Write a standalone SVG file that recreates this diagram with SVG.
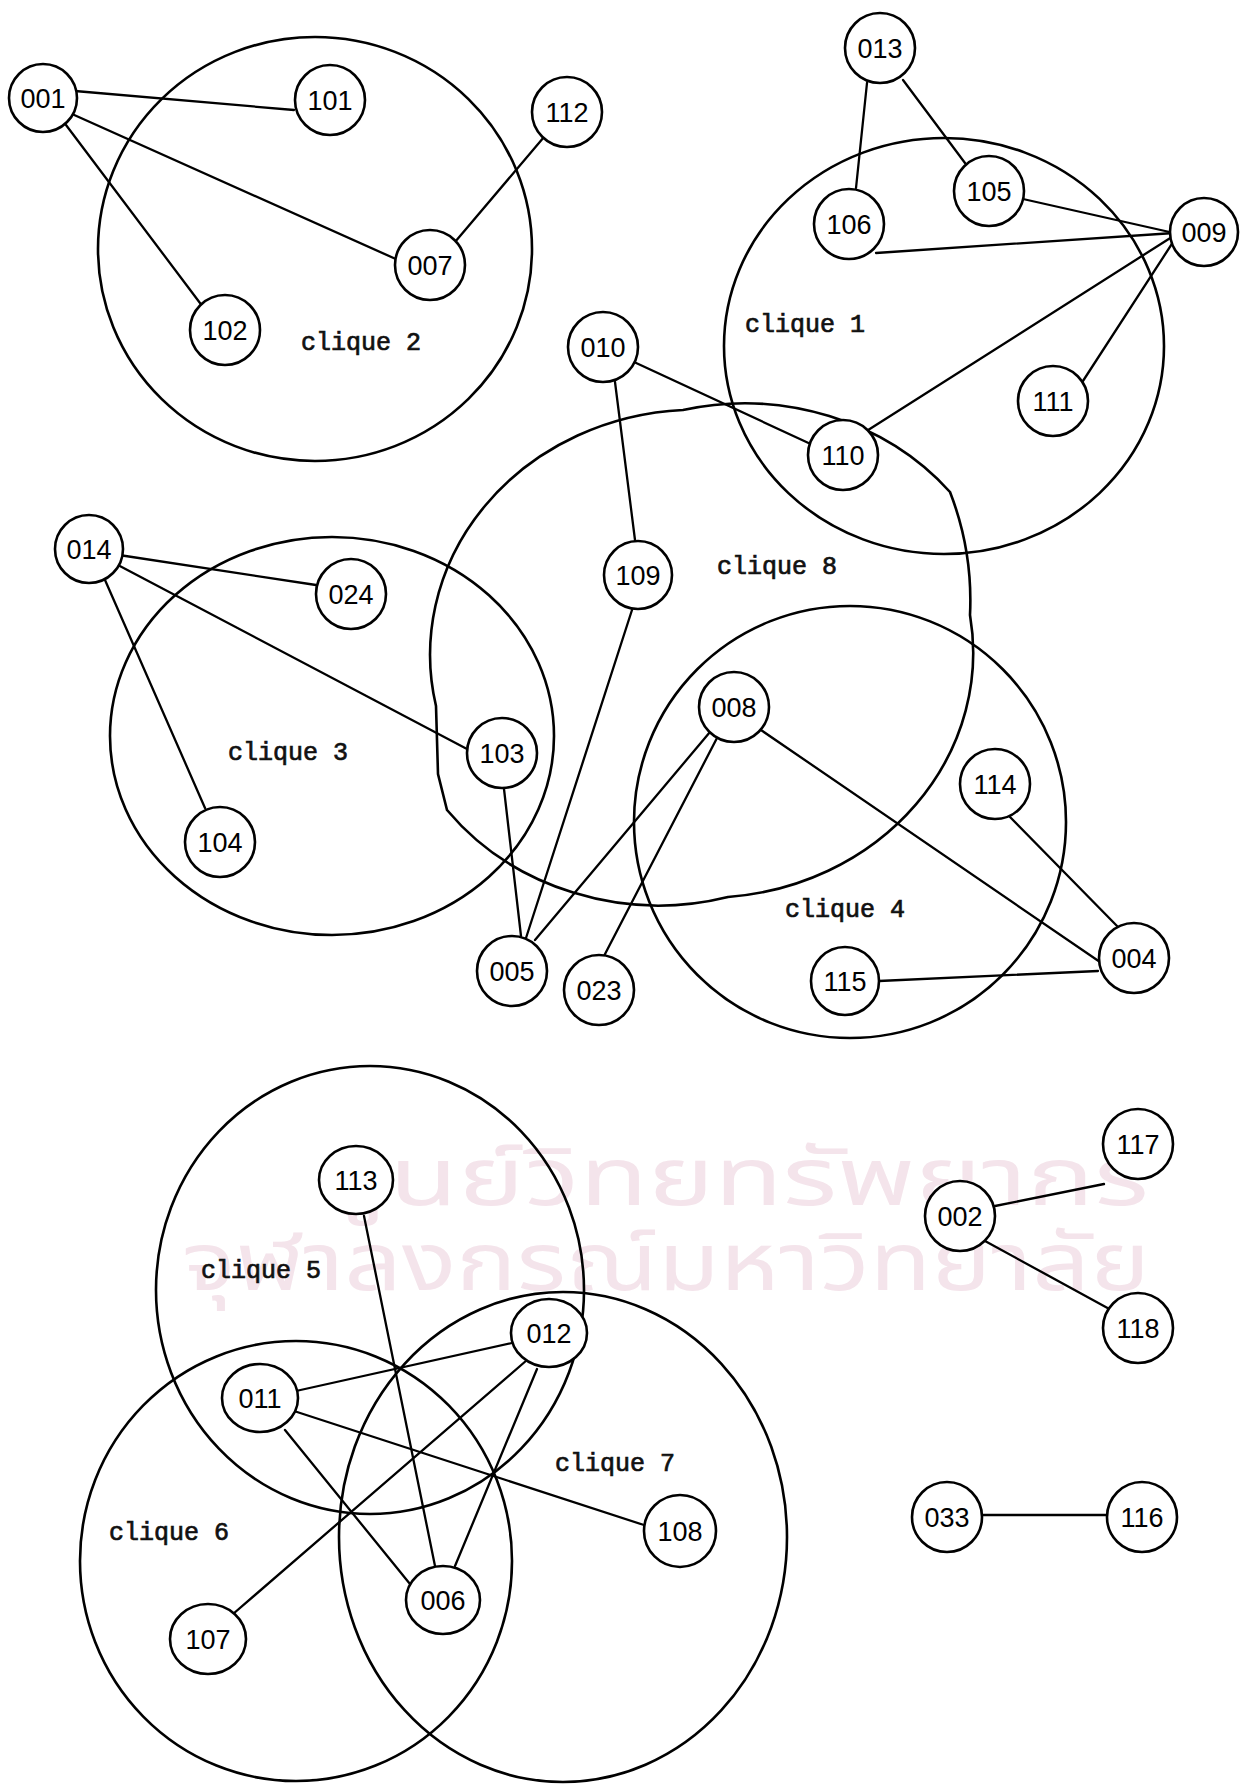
<svg xmlns="http://www.w3.org/2000/svg" width="1244" height="1785" viewBox="0 0 1244 1785">
<style>
.cl{fill:none;stroke:#000;stroke-width:2.6}
.e{stroke:#000;stroke-width:2.3;fill:none;stroke-linecap:round}
.n circle,.n ellipse{fill:#fff;stroke:#000;stroke-width:2.6}
.n text{font-family:"Liberation Sans",Arial,sans-serif;font-size:27px;text-anchor:middle;fill:#000}
.lab{font-family:"Liberation Mono","Courier New",monospace;font-size:25px;text-anchor:middle;fill:#111;stroke:#111;stroke-width:0.7}
.wm{font-family:"Noto Sans Thai","Noto Sans","DejaVu Sans",sans-serif;font-size:80px;fill:#f4e4eb}
</style>
<rect width="1244" height="1785" fill="#fff"/>
<g id="watermark">
<text class="wm" x="319" y="1205" textLength="830" lengthAdjust="spacingAndGlyphs">ศูนย์วิทยทรัพยากร</text>
<text class="wm" x="182" y="1290" textLength="968" lengthAdjust="spacingAndGlyphs">จุฬาลงกรณ์มหาวิทยาลัย</text>
</g>
<g id="cliques">
<ellipse id="clique2" class="cl" cx="315" cy="249" rx="217" ry="212"/>
<ellipse id="clique1" class="cl" cx="944" cy="346" rx="220" ry="208"/>
<ellipse id="clique3" class="cl" cx="332" cy="736" rx="222" ry="199"/>
<ellipse id="clique4" class="cl" cx="850" cy="822" rx="216" ry="216"/>
<path id="clique8" class="cl" d="M436 706 A267 245 0 0 1 683 410 A267 245 0 0 1 950 492 A300 300 0 0 1 970 615 A267 245 0 0 1 728 897 A267 245 0 0 1 447 810 L438 774 Z"/>
<ellipse id="clique5" class="cl" cx="370" cy="1290" rx="214" ry="224"/>
<ellipse id="clique6" class="cl" cx="296" cy="1561" rx="216" ry="220"/>
<ellipse id="clique7" class="cl" cx="563" cy="1537" rx="224" ry="245"/>
</g>
<g id="labels">
<text class="lab" x="361" y="350">clique 2</text>
<text class="lab" x="805" y="332">clique 1</text>
<text class="lab" x="288" y="760">clique 3</text>
<text class="lab" x="777" y="574">clique 8</text>
<text class="lab" x="845" y="917">clique 4</text>
<text class="lab" x="261" y="1278">clique 5</text>
<text class="lab" x="615" y="1471">clique 7</text>
<text class="lab" x="169" y="1540">clique 6</text>
</g>
<g id="connectors">
<line class="e" x1="75" y1="91" x2="294" y2="110"/>
<line class="e" x1="72" y1="114" x2="398" y2="260"/>
<line class="e" x1="66" y1="125" x2="203" y2="307"/>
<line class="e" x1="544" y1="137" x2="455" y2="242"/>
<line class="e" x1="867" y1="83" x2="856" y2="188"/>
<line class="e" x1="903" y1="80" x2="965" y2="163"/>
<line class="e" x1="1023" y1="199" x2="1174" y2="233"/>
<line class="e" x1="876" y1="253" x2="1174" y2="233"/>
<line class="e" x1="865" y1="432" x2="1175" y2="235"/>
<line class="e" x1="1081" y1="384" x2="1177" y2="236"/>
<line class="e" x1="634" y1="362" x2="815" y2="446"/>
<line class="e" x1="615" y1="382" x2="635" y2="540"/>
<line class="e" x1="119" y1="555" x2="316" y2="585"/>
<line class="e" x1="116" y1="564" x2="467" y2="749"/>
<line class="e" x1="105" y1="580" x2="205" y2="808"/>
<line class="e" x1="504" y1="789" x2="521" y2="936"/>
<line class="e" x1="632" y1="610" x2="526" y2="938"/>
<line class="e" x1="710" y1="732" x2="535" y2="940"/>
<line class="e" x1="717" y1="738" x2="604" y2="956"/>
<line class="e" x1="758" y1="728" x2="1100" y2="962"/>
<line class="e" x1="1010" y1="817" x2="1119" y2="928"/>
<line class="e" x1="879" y1="981" x2="1098" y2="971"/>
<line class="e" x1="364" y1="1216" x2="435" y2="1566"/>
<line class="e" x1="296" y1="1391" x2="512" y2="1343"/>
<line class="e" x1="294" y1="1411" x2="644" y2="1525"/>
<line class="e" x1="285" y1="1430" x2="410" y2="1584"/>
<line class="e" x1="527" y1="1360" x2="233" y2="1614"/>
<line class="e" x1="537" y1="1369" x2="455" y2="1566"/>
<line class="e" x1="995" y1="1206" x2="1104" y2="1184"/>
<line class="e" x1="985" y1="1241" x2="1113" y2="1311"/>
<line class="e" x1="981" y1="1515" x2="1108" y2="1515"/>
</g>
<g id="n001" class="n"><circle cx="43" cy="98" r="34"/><text x="43" y="108">001</text></g>
<g id="n101" class="n"><circle cx="330" cy="100" r="35"/><text x="330" y="110">101</text></g>
<g id="n112" class="n"><circle cx="567" cy="112" r="35"/><text x="567" y="122">112</text></g>
<g id="n007" class="n"><circle cx="430" cy="265" r="35"/><text x="430" y="275">007</text></g>
<g id="n102" class="n"><circle cx="225" cy="330" r="35"/><text x="225" y="340">102</text></g>
<g id="n013" class="n"><circle cx="880" cy="48" r="35"/><text x="880" y="58">013</text></g>
<g id="n105" class="n"><circle cx="989" cy="191" r="35"/><text x="989" y="201">105</text></g>
<g id="n106" class="n"><circle cx="849" cy="224" r="35"/><text x="849" y="234">106</text></g>
<g id="n009" class="n"><circle cx="1204" cy="232" r="34"/><text x="1204" y="242">009</text></g>
<g id="n111" class="n"><circle cx="1053" cy="401" r="35"/><text x="1053" y="411">111</text></g>
<g id="n110" class="n"><circle cx="843" cy="455" r="35"/><text x="843" y="465">110</text></g>
<g id="n010" class="n"><circle cx="603" cy="347" r="35"/><text x="603" y="357">010</text></g>
<g id="n014" class="n"><circle cx="89" cy="549" r="34"/><text x="89" y="559">014</text></g>
<g id="n024" class="n"><circle cx="351" cy="594" r="35"/><text x="351" y="604">024</text></g>
<g id="n103" class="n"><circle cx="502" cy="753" r="35"/><text x="502" y="763">103</text></g>
<g id="n104" class="n"><circle cx="220" cy="842" r="35"/><text x="220" y="852">104</text></g>
<g id="n109" class="n"><circle cx="638" cy="575" r="34"/><text x="638" y="585">109</text></g>
<g id="n008" class="n"><circle cx="734" cy="707" r="35"/><text x="734" y="717">008</text></g>
<g id="n005" class="n"><circle cx="512" cy="971" r="35"/><text x="512" y="981">005</text></g>
<g id="n023" class="n"><circle cx="599" cy="990" r="35"/><text x="599" y="1000">023</text></g>
<g id="n114" class="n"><circle cx="995" cy="784" r="35"/><text x="995" y="794">114</text></g>
<g id="n004" class="n"><circle cx="1134" cy="958" r="35"/><text x="1134" y="968">004</text></g>
<g id="n115" class="n"><circle cx="845" cy="981" r="34"/><text x="845" y="991">115</text></g>
<g id="n113" class="n"><ellipse cx="356" cy="1180" rx="37" ry="34"/><text x="356" y="1190">113</text></g>
<g id="n012" class="n"><ellipse cx="549" cy="1333" rx="38" ry="34"/><text x="549" y="1343">012</text></g>
<g id="n011" class="n"><ellipse cx="260" cy="1398" rx="38" ry="34"/><text x="260" y="1408">011</text></g>
<g id="n108" class="n"><circle cx="680" cy="1531" r="36"/><text x="680" y="1541">108</text></g>
<g id="n006" class="n"><ellipse cx="443" cy="1600" rx="37" ry="34"/><text x="443" y="1610">006</text></g>
<g id="n107" class="n"><ellipse cx="208" cy="1639" rx="38" ry="35"/><text x="208" y="1649">107</text></g>
<g id="n117" class="n"><circle cx="1138" cy="1144" r="35"/><text x="1138" y="1154">117</text></g>
<g id="n002" class="n"><circle cx="960" cy="1216" r="35"/><text x="960" y="1226">002</text></g>
<g id="n118" class="n"><circle cx="1138" cy="1328" r="35"/><text x="1138" y="1338">118</text></g>
<g id="n033" class="n"><circle cx="947" cy="1517" r="35"/><text x="947" y="1527">033</text></g>
<g id="n116" class="n"><circle cx="1142" cy="1517" r="35"/><text x="1142" y="1527">116</text></g>
</svg>
